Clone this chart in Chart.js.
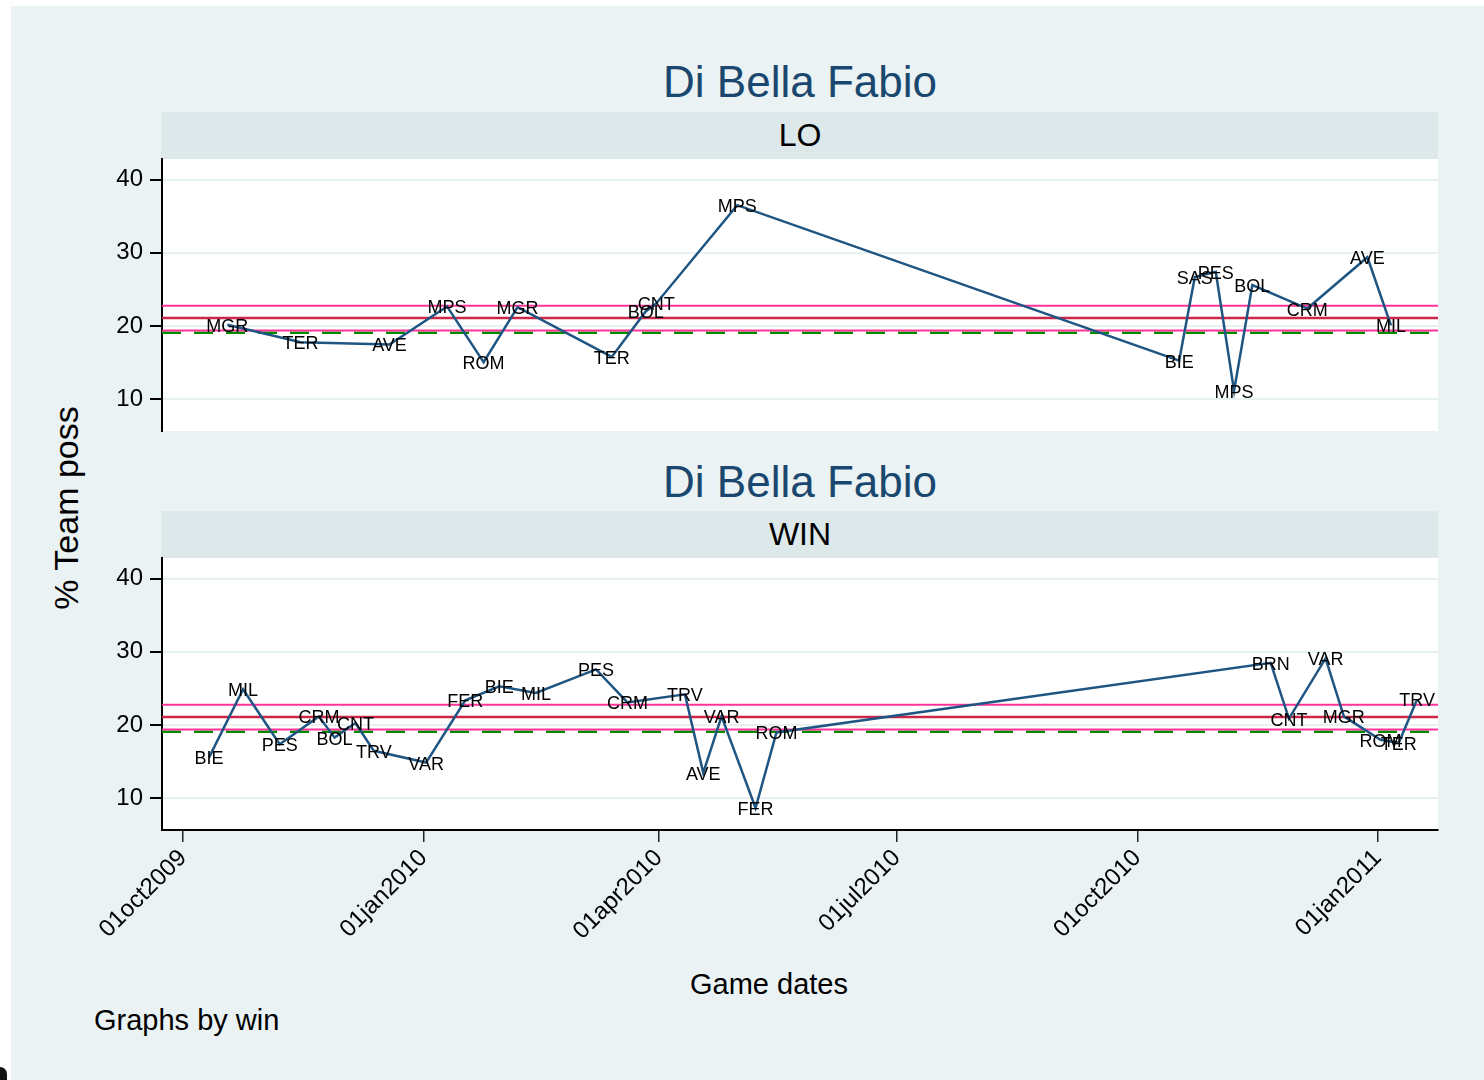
<!DOCTYPE html>
<html>
<head>
<meta charset="utf-8">
<script src="https://cdn.jsdelivr.net/npm/chart.js@4.4.1/dist/chart.umd.min.js"></script>
<style>
html,body{margin:0;padding:0;background:#fff;width:1484px;height:1080px;overflow:hidden;font-family:"Liberation Sans",Arial,sans-serif;}
#bg{position:absolute;left:11px;top:6px;width:1473px;height:1074px;background:#eaf2f3;}
.t{position:absolute;transform:translate(-50%,-50%);white-space:nowrap;line-height:1;color:#000;}
.title{font-size:44px;color:#1a476f;}
.strip{position:absolute;left:161px;width:1277px;height:47px;background:#dde8ea;}
.stxt{font-size:32px;}
canvas{position:absolute;left:0;}
#corner{position:absolute;left:0;top:1067px;width:7px;height:13px;background:#111;border-top-right-radius:7px;}
</style>
</head>
<body>
<div id="bg"></div>
<div class="t title" style="left:800px;top:82px;">Di Bella Fabio</div>
<div class="strip" style="top:112px;"></div>
<div class="t stxt" style="left:800px;top:135px;">LO</div>
<div class="t title" style="left:800px;top:482px;">Di Bella Fabio</div>
<div class="strip" style="top:511px;"></div>
<div class="t stxt" style="left:800px;top:534px;">WIN</div>
<div class="t" style="left:66px;top:508px;font-size:34px;transform:translate(-50%,-50%) rotate(-90deg);">% Team poss</div>
<div class="t" style="left:769px;top:984px;font-size:29px;">Game dates</div>
<div class="t" style="left:94px;top:1020px;font-size:29px;transform:translate(0,-50%);">Graphs by win</div>
<div id="corner"></div>
<canvas id="c1" width="1484" height="312" style="top:139px;"></canvas>
<canvas id="c2" width="1484" height="420" style="top:538px;"></canvas>
<script>
// ---- data ----
const loDates = ['2009-10-18','2009-11-15','2009-12-19','2010-01-10','2010-01-24','2010-02-06','2010-03-14','2010-03-27','2010-03-31','2010-05-01','2010-10-17','2010-10-23','2010-10-31','2010-11-07','2010-11-14','2010-12-05','2010-12-28','2011-01-06'];
const loTeams = ['MGR','TER','AVE','MPS','ROM','MGR','TER','BOL','CNT','MPS','BIE','SAS','PES','MPS','BOL','CRM','AVE','MIL'];
const loValues = [20.2,17.8,17.5,22.7,15.1,22.6,15.8,22.0,23.1,36.5,15.3,26.7,27.4,11.2,25.6,22.4,29.4,20.1];

const winDates = ['2009-10-11','2009-10-24','2009-11-07','2009-11-22','2009-11-28','2009-12-06','2009-12-13','2010-01-02','2010-01-17','2010-01-30','2010-02-13','2010-03-08','2010-03-20','2010-04-11','2010-04-18','2010-04-25','2010-05-08','2010-05-16','2010-11-21','2010-11-28','2010-12-12','2010-12-19','2011-01-02','2011-01-09','2011-01-16'];
const winTeams = ['BIE','MIL','PES','CRM','BOL','CNT','TRV','VAR','FER','BIE','MIL','PES','CRM','TRV','AVE','VAR','FER','ROM','BRN','CNT','VAR','MGR','ROM','TER','TRV'];
const winValues = [15.6,24.9,17.4,21.2,18.3,20.3,16.5,14.9,23.4,25.3,24.4,27.6,23.1,24.2,13.5,21.2,8.7,19.0,28.5,20.9,29.1,21.2,18.0,17.6,23.5];

const refValues = [22.8, 21.1, 19.4, 19.1];   // upper pink, red, lower pink, green dashed
const tickDates = ['2009-10-01','2010-01-01','2010-04-01','2010-07-01','2010-10-01','2011-01-01'];
const tickLabels = ['01oct2009','01jan2010','01apr2010','01jul2010','01oct2010','01jan2011'];
const yTicks = [10,20,30,40];
const xRange = ['2009-09-23','2011-01-24'];
const yRange = [5.7, 42.8];

// ---- helpers ----
function dayNum(s){const p=s.split('-').map(Number);return Date.UTC(p[0],p[1]-1,p[2])/86400000;}
const tickDays = tickDates.map(dayNum);
const xMin = dayNum(xRange[0]), xMax = dayNum(xRange[1]);

Chart.defaults.font.family = '"Liberation Sans", Arial, sans-serif';
Chart.defaults.color = '#000';

const refStyles = [
  {color:'#ff3399', width:2, dash:[]},
  {color:'#cc2648', width:2.5, dash:[]},
  {color:'#ff3399', width:2, dash:[]},
  {color:'#008a00', width:2.5, dash:[19,13]}
];

const bgPlugin = {
  id:'plotbg',
  beforeDraw(chart){
    const a = chart.chartArea, ctx = chart.ctx;
    ctx.save(); ctx.fillStyle='#fff';
    ctx.fillRect(a.left, a.top, a.right-a.left, a.bottom-a.top);
    ctx.restore();
  }
};
const labelPlugin = {
  id:'ptlabels',
  afterDatasetsDraw(chart){
    const ctx = chart.ctx, meta = chart.getDatasetMeta(0);
    const labels = chart.data.datasets[0].pointLabels;
    ctx.save();
    ctx.font = '18px "Liberation Sans", Arial, sans-serif';
    ctx.fillStyle = '#000'; ctx.textAlign='center'; ctx.textBaseline='middle';
    meta.data.forEach((el,i)=>{ ctx.fillText(labels[i], el.x, el.y+2); });
    ctx.restore();
  }
};

function makePanel(id, dates, values, teams, showX){
  const datasets = [{
    data: dates.map((d,i)=>({x:dayNum(d), y:values[i]})),
    pointLabels: teams,
    borderColor:'#1f5582', borderWidth:2.5, pointRadius:0, tension:0, fill:false
  }];
  refValues.forEach((v,i)=>{
    datasets.push({
      data:[{x:xMin,y:v},{x:xMax,y:v}],
      borderColor:refStyles[i].color, borderWidth:refStyles[i].width, borderDash:refStyles[i].dash,
      pointRadius:0, fill:false
    });
  });
  return new Chart(document.getElementById(id), {
    type:'line',
    data:{datasets},
    plugins:[bgPlugin,labelPlugin],
    options:{
      responsive:false, animation:false, events:[],
      layout:{padding:{left:0,right:46,top:20,bottom:showX?0:20}},
      plugins:{legend:{display:false}, tooltip:{enabled:false}},
      scales:{
        x:{
          type:'linear', min:xMin, max:xMax, display:showX,
          afterBuildTicks:s=>{s.ticks = tickDays.map(v=>({value:v}));},
          afterFit:s=>{ if(showX){s.height=128;} else {s.height=0;} s.paddingLeft=0; s.paddingRight=0;},
          ticks:{autoSkip:false, minRotation:45, maxRotation:45, padding:2, font:{size:24}, color:'#000',
            callback:(v)=>{const k=tickDays.indexOf(v);return k>=0?tickLabels[k]:'';}},
          grid:{drawOnChartArea:false, drawTicks:true, tickLength:12, color:'#222', lineWidth:1.5},
          border:{display:true, color:'#000', width:2}
        },
        y:{
          type:'linear', min:yRange[0], max:yRange[1],
          afterBuildTicks:s=>{s.ticks = yTicks.map(v=>({value:v}));},
          afterFit:s=>{s.width=162; s.paddingTop=0; s.paddingBottom=0;},
          ticks:{font:{size:24}, color:'#000', padding:7},
          grid:{color:'#e8f1f1', lineWidth:2, tickColor:'#000', tickLength:12, drawTicks:true},
          border:{display:true, color:'#000', width:2}
        }
      }
    }
  });
}

makePanel('c1', loDates, loValues, loTeams, false);
makePanel('c2', winDates, winValues, winTeams, true);
</script>
</body>
</html>
